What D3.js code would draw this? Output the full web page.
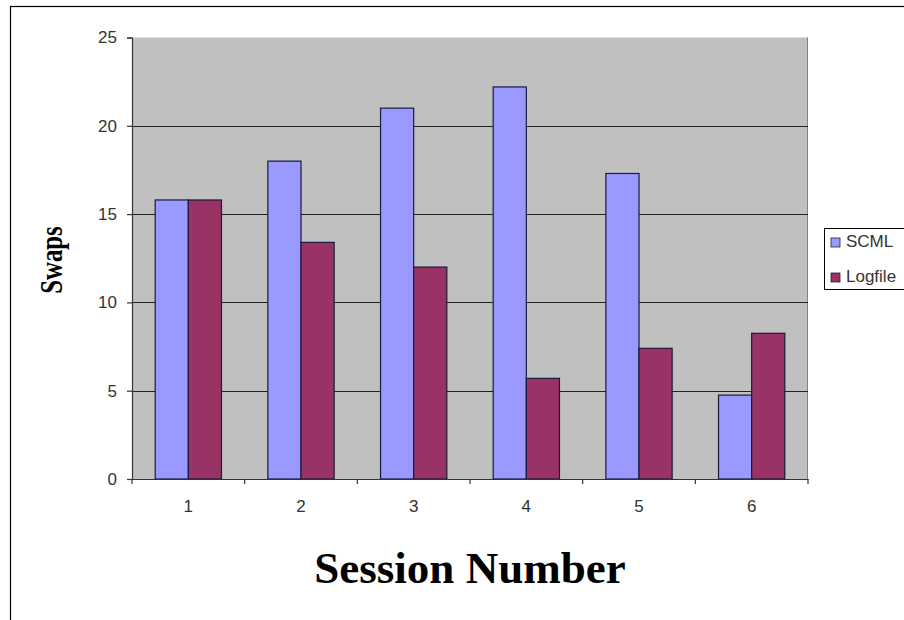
<!DOCTYPE html>
<html>
<head>
<meta charset="utf-8">
<script src="https://cdn.jsdelivr.net/npm/d3@7"></script>
<style>
  html, body { margin: 0; padding: 0; background: #fff; }
  svg { display: block; }
</style>
</head>
<body>
<svg id="chart" width="904" height="620"></svg>
<script>
// Swaps per session for the two approaches
const sessions = ["1", "2", "3", "4", "5", "6"];
const seriesNames = ["SCML", "Logfile"];
const scmlValues = [15.8, 18, 21, 22.2, 17.3, 4.75];
const logfileValues = [15.8, 13.4, 12, 5.7, 7.4, 8.25];
const yTicks = [0, 5, 10, 15, 20, 25];
const seriesColors = ["#9999FF", "#993366"];

const rows = sessions.map((s, i) => ({ session: s, values: [scmlValues[i], logfileValues[i]] }));

const svg = d3.select("#chart");
const plot = { left: 132, right: 808, top: 37.5, bottom: 479 };

// outer chart frame
svg.append("rect")
  .attr("x", 10.5).attr("y", 6.5)
  .attr("width", 900).attr("height", 620)
  .attr("fill", "#fff").attr("stroke", "#000").attr("stroke-width", 1.2);

const x0 = d3.scaleBand().domain(sessions).range([plot.left, plot.right]).padding(0);
const x1 = d3.scaleBand().domain(d3.range(seriesNames.length))
  .range([0, x0.bandwidth()]).paddingInner(0).paddingOuter(0.7);
const y = d3.scaleLinear().domain([0, 25]).range([plot.bottom, plot.top]);

// plot area
svg.append("rect")
  .attr("x", plot.left).attr("y", plot.top)
  .attr("width", plot.right - plot.left).attr("height", plot.bottom - plot.top)
  .attr("fill", "#C0C0C0");
svg.append("line")
  .attr("x1", plot.right - 0.5).attr("x2", plot.right - 0.5)
  .attr("y1", plot.top).attr("y2", plot.bottom)
  .attr("stroke", "#808080").attr("stroke-width", 1);

// horizontal gridlines
svg.append("g")
  .selectAll("line")
  .data(yTicks.filter(t => t > 0 && t < 25))
  .join("line")
  .attr("x1", plot.left).attr("x2", plot.right)
  .attr("y1", d => Math.round(y(d)) + 0.5).attr("y2", d => Math.round(y(d)) + 0.5)
  .attr("stroke", "#222").attr("stroke-width", 1.2);

// bars
const groups = svg.append("g")
  .selectAll("g")
  .data(rows)
  .join("g")
  .attr("transform", d => `translate(${x0(d.session)},0)`);

groups.selectAll("rect")
  .data(d => d.values.map((v, k) => ({ k, v })))
  .join("rect")
  .attr("x", d => x1(d.k))
  .attr("width", x1.bandwidth())
  .attr("y", d => y(d.v))
  .attr("height", d => y(0) - y(d.v))
  .attr("fill", d => seriesColors[d.k])
  .attr("stroke", "#1a1a3a")
  .attr("stroke-width", 1.2);

// y axis
const yAxis = d3.axisLeft(y).tickValues(yTicks).tickSize(5).tickPadding(10).tickFormat(d3.format("d"));
const gy = svg.append("g").attr("transform", `translate(${plot.left},0)`).call(yAxis);
gy.select(".domain").attr("stroke", "#333").attr("stroke-width", 1.2);
gy.selectAll(".tick line").attr("stroke", "#333").attr("stroke-width", 1.2);
gy.selectAll(".tick text")
  .attr("font-family", "Arial, 'Liberation Sans', sans-serif")
  .attr("font-size", 17).attr("fill", "#333");

// x axis: ticks sit on the category boundaries
const xAxis = d3.axisBottom(x0).tickSize(0).tickPadding(21);
const gx = svg.append("g").attr("transform", `translate(0,${plot.bottom})`).call(xAxis);
gx.select(".domain").attr("stroke", "#333").attr("stroke-width", 1.2);
gx.selectAll(".tick text")
  .attr("font-family", "Arial, 'Liberation Sans', sans-serif")
  .attr("font-size", 17).attr("fill", "#333");
gx.append("g").selectAll("line")
  .data(sessions.map(s => x0(s)).concat([plot.right]))
  .join("line")
  .attr("x1", d => d).attr("x2", d => d)
  .attr("y1", 0).attr("y2", 5)
  .attr("stroke", "#333").attr("stroke-width", 1.2);

// axis titles
svg.append("text")
  .attr("x", 470).attr("y", 583)
  .attr("text-anchor", "middle")
  .attr("font-family", "'Times New Roman', 'Liberation Serif', serif")
  .attr("font-weight", "bold").attr("font-size", 45)
  .attr("fill", "#000")
  .text("Session Number");

svg.append("text")
  .attr("transform", "translate(62,260) rotate(-90) scale(0.8,1)")
  .attr("text-anchor", "middle")
  .attr("font-family", "'Times New Roman', 'Liberation Serif', serif")
  .attr("font-weight", "bold").attr("font-size", 31)
  .attr("fill", "#000")
  .text("Swaps");

// legend
const legend = svg.append("g").attr("transform", "translate(824,228)");
legend.append("rect")
  .attr("x", 0.5).attr("y", 0.5).attr("width", 80).attr("height", 61)
  .attr("fill", "#fff").attr("stroke", "#000").attr("stroke-width", 1);
const items = legend.selectAll("g.item")
  .data(seriesNames)
  .join("g").attr("class", "item")
  .attr("transform", (d, i) => `translate(7,${10 + i * 35})`);
items.append("rect")
  .attr("width", 9).attr("height", 9)
  .attr("fill", (d, i) => seriesColors[i])
  .attr("stroke", "#222").attr("stroke-width", 0.8);
items.append("text")
  .attr("x", 15).attr("y", 9)
  .attr("font-family", "Arial, 'Liberation Sans', sans-serif")
  .attr("font-size", 17).attr("fill", "#333")
  .text(d => d);
</script>
</body>
</html>
